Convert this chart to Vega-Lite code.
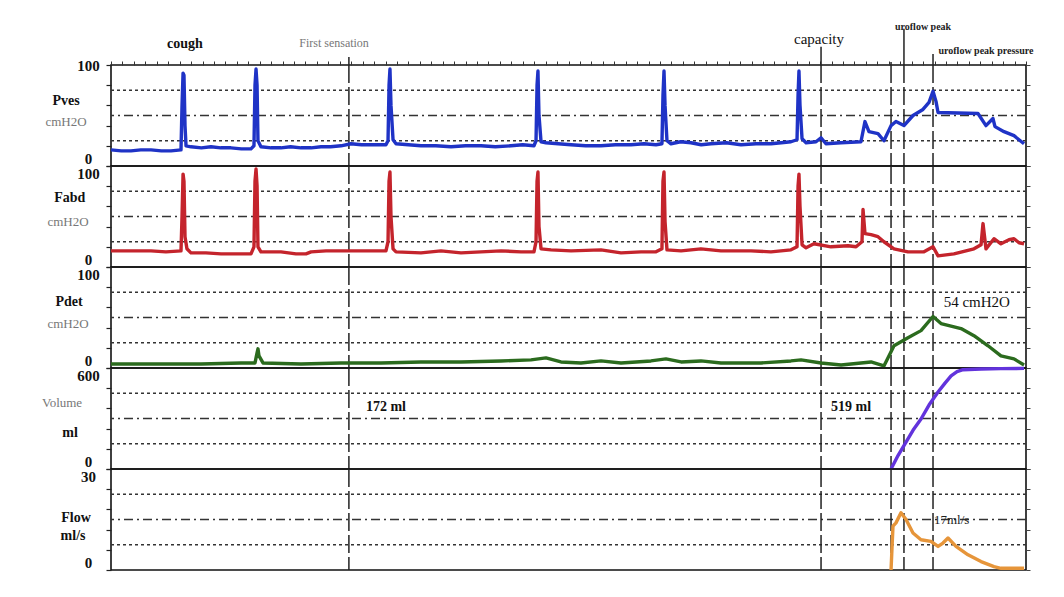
{
  "$schema": "https://vega.github.io/schema/vega-lite/v6.json",
  "background": "white",
  "padding": {"left": 41, "top": 20, "right": 5, "bottom": 5},
  "bounds": "flush",
  "spacing": 0,
  "config": {
    "view": {"stroke": "#111", "strokeWidth": 1.6},
    "font": "Liberation Serif",
    "concat": {"spacing": 0}
  },
  "datasets": {
    "events": [{"t": 20.8}, {"t": 62.08}, {"t": 68.2}, {"t": 69.33}, {"t": 71.87}],
    "ext": [{"t": 20.8, "top": 108}, {"t": 62.08, "top": 118}, {"t": 68.2, "top": 103}, {"t": 69.33, "top": 136}, {"t": 71.87, "top": 111}],
    "pves": [
      {"t": 0, "v": 16}, {"t": 0.9, "v": 15}, {"t": 1.75, "v": 15}, {"t": 2.6, "v": 16}, {"t": 3.5, "v": 16}, {"t": 4.4, "v": 15}, {"t": 5.25, "v": 15}, {"t": 6.12, "v": 16}, {"t": 6.21, "v": 60}, {"t": 6.3, "v": 92}, {"t": 6.38, "v": 90}, {"t": 6.47, "v": 40}, {"t": 6.56, "v": 20},
      {"t": 6.99, "v": 19}, {"t": 7.9, "v": 18}, {"t": 8.74, "v": 19}, {"t": 9.6, "v": 18}, {"t": 10.49, "v": 18}, {"t": 11.4, "v": 17}, {"t": 12.24, "v": 17}, {"t": 12.5, "v": 20}, {"t": 12.59, "v": 80}, {"t": 12.68, "v": 96}, {"t": 12.77, "v": 80}, {"t": 12.85, "v": 25},
      {"t": 13.11, "v": 19}, {"t": 14.0, "v": 18}, {"t": 14.86, "v": 18}, {"t": 15.7, "v": 19}, {"t": 16.61, "v": 18}, {"t": 17.5, "v": 18}, {"t": 18.36, "v": 19}, {"t": 19.2, "v": 19}, {"t": 20.11, "v": 20}, {"t": 20.98, "v": 22}, {"t": 21.9, "v": 21}, {"t": 22.73, "v": 21}, {"t": 24.04, "v": 21}, {"t": 24.22, "v": 25}, {"t": 24.31, "v": 80}, {"t": 24.39, "v": 96}, {"t": 24.48, "v": 60}, {"t": 24.66, "v": 26},
      {"t": 24.92, "v": 22}, {"t": 26.0, "v": 21}, {"t": 27.1, "v": 20}, {"t": 28.4, "v": 20}, {"t": 29.73, "v": 19}, {"t": 31.0, "v": 20}, {"t": 32.35, "v": 20}, {"t": 33.6, "v": 19}, {"t": 34.97, "v": 20}, {"t": 36.0, "v": 21}, {"t": 36.98, "v": 20}, {"t": 37.16, "v": 25}, {"t": 37.25, "v": 80}, {"t": 37.33, "v": 94}, {"t": 37.42, "v": 50}, {"t": 37.6, "v": 24},
      {"t": 38.03, "v": 23}, {"t": 39.1, "v": 22}, {"t": 40.22, "v": 21}, {"t": 41.5, "v": 20}, {"t": 42.84, "v": 20}, {"t": 44.1, "v": 21}, {"t": 45.46, "v": 21}, {"t": 46.6, "v": 22}, {"t": 47.65, "v": 21}, {"t": 48.17, "v": 22}, {"t": 48.26, "v": 70}, {"t": 48.35, "v": 94}, {"t": 48.44, "v": 60}, {"t": 48.61, "v": 25},
      {"t": 48.96, "v": 22}, {"t": 49.8, "v": 24}, {"t": 50.71, "v": 23}, {"t": 51.6, "v": 21}, {"t": 52.46, "v": 22}, {"t": 53.8, "v": 23}, {"t": 55.08, "v": 21}, {"t": 56.4, "v": 22}, {"t": 57.7, "v": 22}, {"t": 58.6, "v": 23}, {"t": 59.45, "v": 24}, {"t": 59.98, "v": 26}, {"t": 60.07, "v": 70}, {"t": 60.15, "v": 94}, {"t": 60.24, "v": 60}, {"t": 60.42, "v": 27},
      {"t": 60.77, "v": 23}, {"t": 61.64, "v": 24}, {"t": 62.08, "v": 28}, {"t": 62.51, "v": 22}, {"t": 63.83, "v": 23}, {"t": 65.57, "v": 24}, {"t": 65.92, "v": 44}, {"t": 66.27, "v": 34}, {"t": 67.06, "v": 32}, {"t": 67.58, "v": 25},
      {"t": 68.2, "v": 40}, {"t": 68.63, "v": 44}, {"t": 69.33, "v": 40}, {"t": 70.12, "v": 50}, {"t": 70.99, "v": 56}, {"t": 71.52, "v": 63}, {"t": 71.87, "v": 74}, {"t": 72.13, "v": 64}, {"t": 72.31, "v": 53},
      {"t": 75.8, "v": 52}, {"t": 76.5, "v": 40}, {"t": 77.11, "v": 47}, {"t": 77.29, "v": 39}, {"t": 78.08, "v": 34}, {"t": 78.95, "v": 30}, {"t": 79.83, "v": 22}
    ],
    "fabd": [
      {"t": 0, "v": 16}, {"t": 1.7, "v": 16}, {"t": 3.5, "v": 16}, {"t": 4.8, "v": 15}, {"t": 6.12, "v": 16}, {"t": 6.21, "v": 50}, {"t": 6.3, "v": 92}, {"t": 6.38, "v": 85}, {"t": 6.47, "v": 30}, {"t": 6.64, "v": 18},
      {"t": 6.99, "v": 14}, {"t": 8.3, "v": 14}, {"t": 9.62, "v": 13}, {"t": 10.9, "v": 13}, {"t": 12.24, "v": 13}, {"t": 12.5, "v": 20}, {"t": 12.59, "v": 85}, {"t": 12.68, "v": 97}, {"t": 12.77, "v": 80}, {"t": 12.85, "v": 20},
      {"t": 13.11, "v": 15}, {"t": 14.86, "v": 15}, {"t": 16.17, "v": 13}, {"t": 17.05, "v": 13}, {"t": 17.49, "v": 15}, {"t": 18.8, "v": 16}, {"t": 20.11, "v": 16}, {"t": 21.86, "v": 16}, {"t": 24.04, "v": 16},
      {"t": 24.22, "v": 25}, {"t": 24.31, "v": 85}, {"t": 24.39, "v": 94}, {"t": 24.48, "v": 50}, {"t": 24.66, "v": 18}, {"t": 24.92, "v": 15}, {"t": 27.1, "v": 14}, {"t": 28.85, "v": 16},
      {"t": 30.6, "v": 14}, {"t": 32.35, "v": 15}, {"t": 34.1, "v": 16}, {"t": 35.85, "v": 15}, {"t": 36.98, "v": 15}, {"t": 37.16, "v": 25}, {"t": 37.25, "v": 85}, {"t": 37.33, "v": 94}, {"t": 37.42, "v": 40}, {"t": 37.6, "v": 18},
      {"t": 38.47, "v": 17}, {"t": 40.22, "v": 16}, {"t": 42.84, "v": 17}, {"t": 44.59, "v": 14}, {"t": 46.34, "v": 15}, {"t": 47.65, "v": 15}, {"t": 48.17, "v": 18}, {"t": 48.26, "v": 85}, {"t": 48.35, "v": 94}, {"t": 48.44, "v": 45}, {"t": 48.61, "v": 17},
      {"t": 49.84, "v": 16}, {"t": 51.58, "v": 18}, {"t": 53.33, "v": 16}, {"t": 55.96, "v": 16}, {"t": 57.7, "v": 15}, {"t": 59.45, "v": 17}, {"t": 59.98, "v": 20}, {"t": 60.07, "v": 80}, {"t": 60.15, "v": 92}, {"t": 60.24, "v": 60}, {"t": 60.42, "v": 22},
      {"t": 60.77, "v": 19}, {"t": 61.46, "v": 23}, {"t": 62.95, "v": 20}, {"t": 64.44, "v": 21}, {"t": 65.14, "v": 20}, {"t": 65.66, "v": 25}, {"t": 65.75, "v": 57}, {"t": 65.92, "v": 33}, {"t": 66.45, "v": 32},
      {"t": 67.06, "v": 30}, {"t": 67.58, "v": 25}, {"t": 68.46, "v": 18}, {"t": 69.68, "v": 15}, {"t": 71.08, "v": 15}, {"t": 71.87, "v": 20}, {"t": 72.31, "v": 11}, {"t": 73.7, "v": 13}, {"t": 75.45, "v": 18},
      {"t": 76.07, "v": 22}, {"t": 76.24, "v": 43}, {"t": 76.5, "v": 18}, {"t": 77.2, "v": 28}, {"t": 77.81, "v": 23}, {"t": 78.51, "v": 27}, {"t": 78.95, "v": 28}, {"t": 79.39, "v": 24}, {"t": 79.83, "v": 23}
    ],
    "pdet": [
      {"t": 0, "v": 4}, {"t": 3.5, "v": 4}, {"t": 7.87, "v": 4}, {"t": 11.37, "v": 5}, {"t": 12.59, "v": 5}, {"t": 12.77, "v": 15}, {"t": 12.85, "v": 19}, {"t": 12.94, "v": 12}, {"t": 13.29, "v": 5},
      {"t": 16.61, "v": 4}, {"t": 20.11, "v": 5}, {"t": 23.61, "v": 5}, {"t": 27.1, "v": 6}, {"t": 30.6, "v": 6}, {"t": 34.1, "v": 7}, {"t": 36.72, "v": 8}, {"t": 38.03, "v": 10}, {"t": 39.34, "v": 6},
      {"t": 41.09, "v": 5}, {"t": 42.84, "v": 7}, {"t": 44.59, "v": 5}, {"t": 47.21, "v": 7}, {"t": 48.52, "v": 9}, {"t": 49.84, "v": 6}, {"t": 51.58, "v": 7}, {"t": 53.33, "v": 5}, {"t": 56.83, "v": 5},
      {"t": 59.45, "v": 7}, {"t": 60.33, "v": 8}, {"t": 62.08, "v": 5}, {"t": 63.83, "v": 3}, {"t": 66.45, "v": 6}, {"t": 67.58, "v": 2}, {"t": 68.46, "v": 22}, {"t": 69.68, "v": 30}, {"t": 70.82, "v": 37},
      {"t": 71.87, "v": 51}, {"t": 72.57, "v": 44}, {"t": 74.32, "v": 39}, {"t": 75.45, "v": 32}, {"t": 76.68, "v": 22}, {"t": 77.81, "v": 12}, {"t": 78.95, "v": 9}, {"t": 79.83, "v": 3}
    ],
    "volume": [
      {"t": 68.2, "v": 0}, {"t": 68.81, "v": 80}, {"t": 69.51, "v": 160}, {"t": 70.12, "v": 230}, {"t": 70.82, "v": 297}, {"t": 71.52, "v": 380}, {"t": 72.31, "v": 457},
      {"t": 72.92, "v": 510}, {"t": 73.45, "v": 553}, {"t": 73.97, "v": 578}, {"t": 74.49, "v": 590}, {"t": 76.07, "v": 594}, {"t": 77.81, "v": 596}, {"t": 79.83, "v": 598}
    ],
    "flow": [
      {"t": 68.2, "v": 0}, {"t": 68.37, "v": 13}, {"t": 68.63, "v": 14}, {"t": 69.07, "v": 17}, {"t": 69.51, "v": 15}, {"t": 70.12, "v": 11}, {"t": 70.82, "v": 9}, {"t": 71.69, "v": 8.5},
      {"t": 72.31, "v": 7}, {"t": 72.74, "v": 8}, {"t": 73.18, "v": 9.5}, {"t": 73.88, "v": 7}, {"t": 74.93, "v": 4.5}, {"t": 76.07, "v": 2.5}, {"t": 77.2, "v": 1}, {"t": 77.81, "v": 0.5}, {"t": 79.83, "v": 0.5}
    ],
    "names": [
      {"panel": "pves", "t": -3.93, "v": 64.4, "text": "Pves", "role": "name"},
      {"panel": "pves", "t": -3.93, "v": 43.6, "text": "cmH2O", "role": "unit"},
      {"panel": "fabd", "t": -3.6, "v": 68.3, "text": "Fabd", "role": "name"},
      {"panel": "fabd", "t": -3.76, "v": 44.6, "text": "cmH2O", "role": "unit"},
      {"panel": "pdet", "t": -3.67, "v": 65.3, "text": "Pdet", "role": "name"},
      {"panel": "pdet", "t": -3.76, "v": 43.6, "text": "cmH2O", "role": "unit"},
      {"panel": "volume", "t": -4.28, "v": 392, "text": "Volume", "role": "unit"},
      {"panel": "volume", "t": -3.58, "v": 214, "text": "ml", "role": "name"},
      {"panel": "flow", "t": -3.06, "v": 15.4, "text": "Flow", "role": "name"},
      {"panel": "flow", "t": -3.32, "v": 10.1, "text": "ml/s", "role": "name"}
    ],
    "notes": [
      {"panel": "pves", "t": 6.47, "v": 121, "text": "cough", "style": "big"},
      {"panel": "pves", "t": 19.5, "v": 122, "text": "First sensation", "style": "light"},
      {"panel": "pves", "t": 61.9, "v": 126, "text": "capacity", "style": "plain"},
      {"panel": "pves", "t": 71.0, "v": 138, "text": "uroflow peak", "style": "small"},
      {"panel": "pves", "t": 76.5, "v": 114, "text": "uroflow peak pressure", "style": "small"},
      {"panel": "volume", "t": 24.04, "v": 368, "text": "172 ml", "style": "big"},
      {"panel": "volume", "t": 64.7, "v": 368, "text": "519 ml", "style": "big"},
      {"panel": "pdet", "t": 75.7, "v": 65, "text": "54 cmH2O", "style": "plain"},
      {"panel": "flow", "t": 73.5, "v": 14.8, "text": "17ml/s", "style": "plain"}
    ],
    "grid": [
      {"panel": "pves", "g": 25, "kind": "dot"}, {"panel": "pves", "g": 75, "kind": "dot"}, {"panel": "pves", "g": 50, "kind": "dash"},
      {"panel": "fabd", "g": 25, "kind": "dot"}, {"panel": "fabd", "g": 75, "kind": "dot"}, {"panel": "fabd", "g": 50, "kind": "dash"},
      {"panel": "pdet", "g": 25, "kind": "dot"}, {"panel": "pdet", "g": 75, "kind": "dot"}, {"panel": "pdet", "g": 50, "kind": "dash"},
      {"panel": "volume", "g": 150, "kind": "dot"}, {"panel": "volume", "g": 450, "kind": "dot"}, {"panel": "volume", "g": 300, "kind": "dash"},
      {"panel": "flow", "g": 7.5, "kind": "dot"}, {"panel": "flow", "g": 22.5, "kind": "dot"}, {"panel": "flow", "g": 15, "kind": "dash"}
    ]
  },
  "vconcat": [
    {
      "width": 915, "height": 101,
      "resolve": {"axis": {"x": "independent", "y": "independent"}},
      "layer": [
        {
          "data": {"name": "grid"},
          "transform": [{"filter": "datum.panel == 'pves' && datum.kind == 'dot'"}],
          "mark": {"type": "rule", "color": "#333", "strokeWidth": 1.3, "strokeDash": [3, 3]},
          "encoding": {
            "y": {"field": "g", "type": "quantitative", "scale": {"domain": [0, 100], "nice": false},
              "axis": {"orient": "left", "values": [0, 20, 40, 60, 80, 100], "labelExpr": "datum.value == 0 || datum.value == 100 ? datum.label : ''", "grid": false, "domain": false, "tickSize": 5, "tickColor": "#222", "tickWidth": 1.2, "labelFont": "Liberation Serif", "labelFontSize": 15, "labelFontWeight": "bold", "labelColor": "#111", "labelAlign": "center", "labelPadding": 18, "labelBaseline": {"condition": {"test": "datum.value == 0", "value": "bottom"}, "value": "middle"}, "labelFlush": false, "labelOverlap": false, "title": null}}
          }
        },
        {
          "data": {"name": "grid"},
          "transform": [{"filter": "datum.panel == 'pves' && datum.kind == 'dash'"}],
          "mark": {"type": "rule", "color": "#333", "strokeWidth": 1.3, "strokeDash": [9, 4, 2, 4]},
          "encoding": {
            "y": {"field": "g", "type": "quantitative", "axis": {"orient": "right", "values": [0, 20, 40, 60, 80, 100], "labels": false, "grid": false, "domain": false, "tickSize": 4, "tickColor": "#444", "tickWidth": 1, "title": null}}
          }
        },
        {
          "data": {"name": "events"},
          "mark": {"type": "rule", "color": "#222", "strokeWidth": 1.5, "strokeDash": [18, 4]},
          "encoding": {
            "x": {"field": "t", "type": "quantitative", "scale": {"domain": [0, 80], "nice": false, "zero": false},
              "axis": {"orient": "top", "values": [0,1,2,3,4,5,6,7,8,9,10,11,12,13,14,15,16,17,18,19,20,21,22,23,24,25,26,27,28,29,30,31,32,33,34,35,36,37,38,39,40,41,42,43,44,45,46,47,48,49,50,51,52,53,54,55,56,57,58,59,60,61,62,63,64,65,66,67,68,69,70,71,72,73,74,75,76,77,78,79,80], "labels": false, "grid": false, "domain": false, "tickColor": "#333", "tickWidth": 1, "tickSize": 4, "title": null}}
          }
        },
        {
          "data": {"name": "ext"},
          "mark": {"type": "rule", "color": "#222", "strokeWidth": 1.5},
          "encoding": {
            "x": {"field": "t", "type": "quantitative", "axis": null},
            "y": {"field": "top", "type": "quantitative", "axis": null},
            "y2": {"datum": 100}
          }
        },
        {
          "data": {"name": "pves"},
          "mark": {"type": "line", "color": "#1f33c6", "strokeWidth": 3.4, "strokeJoin": "round"},
          "encoding": {
            "x": {"field": "t", "type": "quantitative", "axis": null},
            "y": {"field": "v", "type": "quantitative", "axis": null}
          }
        },
        {
          "data": {"name": "names"},
          "transform": [{"filter": "datum.panel == 'pves' && datum.role == 'name'"}],
          "mark": {"type": "text", "font": "Liberation Serif", "fontSize": 14, "fontWeight": "bold", "color": "#111", "align": "center", "baseline": "middle"},
          "encoding": {"x": {"field": "t", "type": "quantitative", "axis": null}, "y": {"field": "v", "type": "quantitative", "axis": null}, "text": {"field": "text"}}
        },
        {
          "data": {"name": "names"},
          "transform": [{"filter": "datum.panel == 'pves' && datum.role == 'unit'"}],
          "mark": {"type": "text", "font": "Liberation Serif", "fontSize": 13, "color": "#777", "align": "center", "baseline": "middle"},
          "encoding": {"x": {"field": "t", "type": "quantitative", "axis": null}, "y": {"field": "v", "type": "quantitative", "axis": null}, "text": {"field": "text"}}
        },
        {
          "data": {"name": "notes"},
          "transform": [{"filter": "datum.panel == 'pves' && datum.style == 'big'"}],
          "mark": {"type": "text", "font": "Liberation Serif", "fontSize": 14, "fontWeight": "bold", "color": "#111", "align": "center", "baseline": "middle"},
          "encoding": {"x": {"field": "t", "type": "quantitative", "axis": null}, "y": {"field": "v", "type": "quantitative", "axis": null}, "text": {"field": "text"}}
        },
        {
          "data": {"name": "notes"},
          "transform": [{"filter": "datum.panel == 'pves' && datum.style == 'light'"}],
          "mark": {"type": "text", "font": "Liberation Serif", "fontSize": 12, "color": "#777", "align": "center", "baseline": "middle"},
          "encoding": {"x": {"field": "t", "type": "quantitative", "axis": null}, "y": {"field": "v", "type": "quantitative", "axis": null}, "text": {"field": "text"}}
        },
        {
          "data": {"name": "notes"},
          "transform": [{"filter": "datum.panel == 'pves' && datum.style == 'plain'"}],
          "mark": {"type": "text", "font": "Liberation Serif", "fontSize": 15, "color": "#111", "align": "center", "baseline": "middle"},
          "encoding": {"x": {"field": "t", "type": "quantitative", "axis": null}, "y": {"field": "v", "type": "quantitative", "axis": null}, "text": {"field": "text"}}
        },
        {
          "data": {"name": "notes"},
          "transform": [{"filter": "datum.panel == 'pves' && datum.style == 'small'"}],
          "mark": {"type": "text", "font": "Liberation Serif", "fontSize": 10, "fontWeight": "bold", "color": "#222", "align": "center", "baseline": "middle"},
          "encoding": {"x": {"field": "t", "type": "quantitative", "axis": null}, "y": {"field": "v", "type": "quantitative", "axis": null}, "text": {"field": "text"}}
        }
      ]
    },
    {
      "width": 915, "height": 101,
      "resolve": {"axis": {"x": "independent", "y": "independent"}},
      "layer": [
        {
          "data": {"name": "grid"},
          "transform": [{"filter": "datum.panel == 'fabd' && datum.kind == 'dot'"}],
          "mark": {"type": "rule", "color": "#333", "strokeWidth": 1.3, "strokeDash": [3, 3]},
          "encoding": {
            "y": {"field": "g", "type": "quantitative", "scale": {"domain": [0, 100], "nice": false},
              "axis": {"orient": "left", "values": [0, 20, 40, 60, 80, 100], "labelExpr": "datum.value == 0 || datum.value == 100 ? datum.label : ''", "grid": false, "domain": false, "tickSize": 5, "tickColor": "#222", "tickWidth": 1.2, "labelFont": "Liberation Serif", "labelFontSize": 15, "labelFontWeight": "bold", "labelColor": "#111", "labelAlign": "center", "labelPadding": 18, "labelBaseline": {"condition": {"test": "datum.value == 0", "value": "bottom"}, "value": "top"}, "labelFlush": false, "labelOverlap": false, "title": null}}
          }
        },
        {
          "data": {"name": "grid"},
          "transform": [{"filter": "datum.panel == 'fabd' && datum.kind == 'dash'"}],
          "mark": {"type": "rule", "color": "#333", "strokeWidth": 1.3, "strokeDash": [9, 4, 2, 4]},
          "encoding": {
            "y": {"field": "g", "type": "quantitative", "axis": {"orient": "right", "values": [0, 20, 40, 60, 80, 100], "labels": false, "grid": false, "domain": false, "tickSize": 4, "tickColor": "#444", "tickWidth": 1, "title": null}}
          }
        },
        {
          "data": {"name": "events"},
          "mark": {"type": "rule", "color": "#222", "strokeWidth": 1.5, "strokeDash": [18, 4]},
          "encoding": {"x": {"field": "t", "type": "quantitative", "scale": {"domain": [0, 80], "nice": false, "zero": false}, "axis": null}}
        },
        {
          "data": {"name": "fabd"},
          "mark": {"type": "line", "color": "#c4242c", "strokeWidth": 3.4, "strokeJoin": "round"},
          "encoding": {
            "x": {"field": "t", "type": "quantitative", "axis": null},
            "y": {"field": "v", "type": "quantitative", "axis": null}
          }
        },
        {
          "data": {"name": "names"},
          "transform": [{"filter": "datum.panel == 'fabd' && datum.role == 'name'"}],
          "mark": {"type": "text", "font": "Liberation Serif", "fontSize": 14, "fontWeight": "bold", "color": "#111", "align": "center", "baseline": "middle"},
          "encoding": {"x": {"field": "t", "type": "quantitative", "axis": null}, "y": {"field": "v", "type": "quantitative", "axis": null}, "text": {"field": "text"}}
        },
        {
          "data": {"name": "names"},
          "transform": [{"filter": "datum.panel == 'fabd' && datum.role == 'unit'"}],
          "mark": {"type": "text", "font": "Liberation Serif", "fontSize": 13, "color": "#777", "align": "center", "baseline": "middle"},
          "encoding": {"x": {"field": "t", "type": "quantitative", "axis": null}, "y": {"field": "v", "type": "quantitative", "axis": null}, "text": {"field": "text"}}
        }
      ]
    },
    {
      "width": 915, "height": 101,
      "resolve": {"axis": {"x": "independent", "y": "independent"}},
      "layer": [
        {
          "data": {"name": "grid"},
          "transform": [{"filter": "datum.panel == 'pdet' && datum.kind == 'dot'"}],
          "mark": {"type": "rule", "color": "#333", "strokeWidth": 1.3, "strokeDash": [3, 3]},
          "encoding": {
            "y": {"field": "g", "type": "quantitative", "scale": {"domain": [0, 100], "nice": false},
              "axis": {"orient": "left", "values": [0, 20, 40, 60, 80, 100], "labelExpr": "datum.value == 0 || datum.value == 100 ? datum.label : ''", "grid": false, "domain": false, "tickSize": 5, "tickColor": "#222", "tickWidth": 1.2, "labelFont": "Liberation Serif", "labelFontSize": 15, "labelFontWeight": "bold", "labelColor": "#111", "labelAlign": "center", "labelPadding": 18, "labelBaseline": {"condition": {"test": "datum.value == 0", "value": "bottom"}, "value": "top"}, "labelFlush": false, "labelOverlap": false, "title": null}}
          }
        },
        {
          "data": {"name": "grid"},
          "transform": [{"filter": "datum.panel == 'pdet' && datum.kind == 'dash'"}],
          "mark": {"type": "rule", "color": "#333", "strokeWidth": 1.3, "strokeDash": [9, 4, 2, 4]},
          "encoding": {
            "y": {"field": "g", "type": "quantitative", "axis": {"orient": "right", "values": [0, 20, 40, 60, 80, 100], "labels": false, "grid": false, "domain": false, "tickSize": 4, "tickColor": "#444", "tickWidth": 1, "title": null}}
          }
        },
        {
          "data": {"name": "events"},
          "mark": {"type": "rule", "color": "#222", "strokeWidth": 1.5, "strokeDash": [18, 4]},
          "encoding": {"x": {"field": "t", "type": "quantitative", "scale": {"domain": [0, 80], "nice": false, "zero": false}, "axis": null}}
        },
        {
          "data": {"name": "pdet"},
          "mark": {"type": "line", "color": "#2b6b1e", "strokeWidth": 3.4, "strokeJoin": "round"},
          "encoding": {
            "x": {"field": "t", "type": "quantitative", "axis": null},
            "y": {"field": "v", "type": "quantitative", "axis": null}
          }
        },
        {
          "data": {"name": "names"},
          "transform": [{"filter": "datum.panel == 'pdet' && datum.role == 'name'"}],
          "mark": {"type": "text", "font": "Liberation Serif", "fontSize": 14, "fontWeight": "bold", "color": "#111", "align": "center", "baseline": "middle"},
          "encoding": {"x": {"field": "t", "type": "quantitative", "axis": null}, "y": {"field": "v", "type": "quantitative", "axis": null}, "text": {"field": "text"}}
        },
        {
          "data": {"name": "names"},
          "transform": [{"filter": "datum.panel == 'pdet' && datum.role == 'unit'"}],
          "mark": {"type": "text", "font": "Liberation Serif", "fontSize": 13, "color": "#777", "align": "center", "baseline": "middle"},
          "encoding": {"x": {"field": "t", "type": "quantitative", "axis": null}, "y": {"field": "v", "type": "quantitative", "axis": null}, "text": {"field": "text"}}
        },
        {
          "data": {"name": "notes"},
          "transform": [{"filter": "datum.panel == 'pdet'"}],
          "mark": {"type": "text", "font": "Liberation Serif", "fontSize": 15, "color": "#111", "align": "center", "baseline": "middle"},
          "encoding": {"x": {"field": "t", "type": "quantitative", "axis": null}, "y": {"field": "v", "type": "quantitative", "axis": null}, "text": {"field": "text"}}
        }
      ]
    },
    {
      "width": 915, "height": 101,
      "resolve": {"axis": {"x": "independent", "y": "independent"}},
      "layer": [
        {
          "data": {"name": "grid"},
          "transform": [{"filter": "datum.panel == 'volume' && datum.kind == 'dot'"}],
          "mark": {"type": "rule", "color": "#333", "strokeWidth": 1.3, "strokeDash": [3, 3]},
          "encoding": {
            "y": {"field": "g", "type": "quantitative", "scale": {"domain": [0, 600], "nice": false},
              "axis": {"orient": "left", "values": [0, 120, 240, 360, 480, 600], "labelExpr": "datum.value == 0 || datum.value == 600 ? datum.label : ''", "grid": false, "domain": false, "tickSize": 5, "tickColor": "#222", "tickWidth": 1.2, "labelFont": "Liberation Serif", "labelFontSize": 15, "labelFontWeight": "bold", "labelColor": "#111", "labelAlign": "center", "labelPadding": 18, "labelBaseline": {"condition": {"test": "datum.value == 0", "value": "bottom"}, "value": "top"}, "labelFlush": false, "labelOverlap": false, "title": null}}
          }
        },
        {
          "data": {"name": "grid"},
          "transform": [{"filter": "datum.panel == 'volume' && datum.kind == 'dash'"}],
          "mark": {"type": "rule", "color": "#333", "strokeWidth": 1.3, "strokeDash": [9, 4, 2, 4]},
          "encoding": {
            "y": {"field": "g", "type": "quantitative", "axis": {"orient": "right", "values": [0, 120, 240, 360, 480, 600], "labels": false, "grid": false, "domain": false, "tickSize": 4, "tickColor": "#444", "tickWidth": 1, "title": null}}
          }
        },
        {
          "data": {"name": "events"},
          "mark": {"type": "rule", "color": "#222", "strokeWidth": 1.5, "strokeDash": [18, 4]},
          "encoding": {"x": {"field": "t", "type": "quantitative", "scale": {"domain": [0, 80], "nice": false, "zero": false}, "axis": null}}
        },
        {
          "data": {"name": "volume"},
          "mark": {"type": "line", "color": "#6233dc", "strokeWidth": 3.4, "strokeJoin": "round"},
          "encoding": {
            "x": {"field": "t", "type": "quantitative", "axis": null},
            "y": {"field": "v", "type": "quantitative", "axis": null}
          }
        },
        {
          "data": {"name": "names"},
          "transform": [{"filter": "datum.panel == 'volume' && datum.role == 'name'"}],
          "mark": {"type": "text", "font": "Liberation Serif", "fontSize": 14, "fontWeight": "bold", "color": "#111", "align": "center", "baseline": "middle"},
          "encoding": {"x": {"field": "t", "type": "quantitative", "axis": null}, "y": {"field": "v", "type": "quantitative", "axis": null}, "text": {"field": "text"}}
        },
        {
          "data": {"name": "names"},
          "transform": [{"filter": "datum.panel == 'volume' && datum.role == 'unit'"}],
          "mark": {"type": "text", "font": "Liberation Serif", "fontSize": 13, "color": "#777", "align": "center", "baseline": "middle"},
          "encoding": {"x": {"field": "t", "type": "quantitative", "axis": null}, "y": {"field": "v", "type": "quantitative", "axis": null}, "text": {"field": "text"}}
        },
        {
          "data": {"name": "notes"},
          "transform": [{"filter": "datum.panel == 'volume'"}],
          "mark": {"type": "text", "font": "Liberation Serif", "fontSize": 14, "fontWeight": "bold", "color": "#111", "align": "center", "baseline": "middle"},
          "encoding": {"x": {"field": "t", "type": "quantitative", "axis": null}, "y": {"field": "v", "type": "quantitative", "axis": null}, "text": {"field": "text"}}
        }
      ]
    },
    {
      "width": 915, "height": 101,
      "resolve": {"axis": {"x": "independent", "y": "independent"}},
      "layer": [
        {
          "data": {"name": "grid"},
          "transform": [{"filter": "datum.panel == 'flow' && datum.kind == 'dot'"}],
          "mark": {"type": "rule", "color": "#333", "strokeWidth": 1.3, "strokeDash": [3, 3]},
          "encoding": {
            "y": {"field": "g", "type": "quantitative", "scale": {"domain": [0, 30], "nice": false},
              "axis": {"orient": "left", "values": [0, 6, 12, 18, 24, 30], "labelExpr": "datum.value == 0 || datum.value == 30 ? datum.label : ''", "grid": false, "domain": false, "tickSize": 5, "tickColor": "#222", "tickWidth": 1.2, "labelFont": "Liberation Serif", "labelFontSize": 15, "labelFontWeight": "bold", "labelColor": "#111", "labelAlign": "center", "labelPadding": 18, "labelBaseline": {"condition": {"test": "datum.value == 0", "value": "bottom"}, "value": "top"}, "labelFlush": false, "labelOverlap": false, "title": null}}
          }
        },
        {
          "data": {"name": "grid"},
          "transform": [{"filter": "datum.panel == 'flow' && datum.kind == 'dash'"}],
          "mark": {"type": "rule", "color": "#333", "strokeWidth": 1.3, "strokeDash": [9, 4, 2, 4]},
          "encoding": {
            "y": {"field": "g", "type": "quantitative", "axis": {"orient": "right", "values": [0, 6, 12, 18, 24, 30], "labels": false, "grid": false, "domain": false, "tickSize": 4, "tickColor": "#444", "tickWidth": 1, "title": null}}
          }
        },
        {
          "data": {"name": "events"},
          "mark": {"type": "rule", "color": "#222", "strokeWidth": 1.5, "strokeDash": [18, 4]},
          "encoding": {"x": {"field": "t", "type": "quantitative", "scale": {"domain": [0, 80], "nice": false, "zero": false}, "axis": null}}
        },
        {
          "data": {"name": "flow"},
          "mark": {"type": "line", "color": "#e6953a", "strokeWidth": 3.4, "strokeJoin": "round"},
          "encoding": {
            "x": {"field": "t", "type": "quantitative", "axis": null},
            "y": {"field": "v", "type": "quantitative", "axis": null}
          }
        },
        {
          "data": {"name": "names"},
          "transform": [{"filter": "datum.panel == 'flow' && datum.role == 'name'"}],
          "mark": {"type": "text", "font": "Liberation Serif", "fontSize": 14, "fontWeight": "bold", "color": "#111", "align": "center", "baseline": "middle"},
          "encoding": {"x": {"field": "t", "type": "quantitative", "axis": null}, "y": {"field": "v", "type": "quantitative", "axis": null}, "text": {"field": "text"}}
        },
        {
          "data": {"name": "notes"},
          "transform": [{"filter": "datum.panel == 'flow'"}],
          "mark": {"type": "text", "font": "Liberation Serif", "fontSize": 13, "color": "#222", "align": "center", "baseline": "middle"},
          "encoding": {"x": {"field": "t", "type": "quantitative", "axis": null}, "y": {"field": "v", "type": "quantitative", "axis": null}, "text": {"field": "text"}}
        }
      ]
    }
  ]
}
